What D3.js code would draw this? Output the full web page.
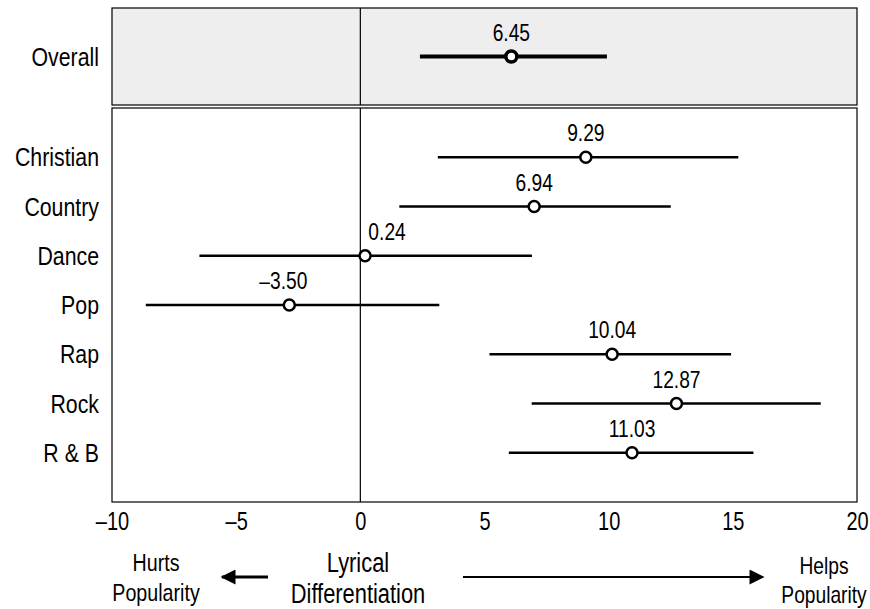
<!DOCTYPE html>
<html>
<head>
<meta charset="utf-8">
<script src="https://cdn.jsdelivr.net/npm/d3@7"></script>
<style>
  body { margin: 0; background: #fff; }
  svg text { font-family: "Liberation Sans", Arial, sans-serif; fill: #000; }
</style>
</head>
<body>
<svg id="chart" width="870" height="609"></svg>
<script>
// ---- data ----
const overallLabel = "Overall";
const overallEstimate = 6.08;
const overallLow = 2.40;
const overallHigh = 9.93;
const overallText = "6.45";

const categories = ["Christian", "Country", "Dance", "Pop", "Rap", "Rock", "R & B"];
const estimates = [9.08, 7.00, 0.19, -2.86, 10.14, 12.73, 10.94];
const lows      = [3.12, 1.57, -6.48, -8.64, 5.20, 6.90, 5.98];
const highs     = [15.22, 12.50, 6.91, 3.18, 14.93, 18.54, 15.83];
const valueTexts = ["9.29", "6.94", "0.24", "\u20133.50", "10.04", "12.87", "11.03"];

const xTicks = [-10, -5, 0, 5, 10, 15, 20];
const xTickLabels = ["\u201310", "\u20135", "0", "5", "10", "15", "20"];

// ---- layout ----
const svg = d3.select("#chart");
const L = 112, R = 857, T = 8;
const topBottom = 105, botTop = 108, B = 502;
const K = 0.8; // horizontal condensing of the sans font

const x = d3.scaleLinear().domain([-10, 20]).range([L, R]);
const y = d3.scalePoint().domain(categories).range([botTop, B]).padding(1);
const yTop = d3.scalePoint().domain([overallLabel]).range([T, topBottom]).padding(0.5);

const place = (px, py, k = K) => `translate(${px},${py}) scale(${k},1)`;

// panels
svg.append("rect").attr("x", L).attr("y", T).attr("width", R - L).attr("height", topBottom - T)
  .attr("fill", "#eeeeee").attr("stroke", "#000").attr("stroke-width", 1.2);
svg.append("rect").attr("x", L).attr("y", botTop).attr("width", R - L).attr("height", B - botTop)
  .attr("fill", "none").attr("stroke", "#000").attr("stroke-width", 1.2);

// zero lines
[[T, topBottom], [botTop, B]].forEach(([a, b]) => {
  svg.append("line").attr("x1", x(0)).attr("x2", x(0)).attr("y1", a).attr("y2", b)
    .attr("stroke", "#000").attr("stroke-width", 1.2);
});

// overall
const oy = yTop(overallLabel);
svg.append("line").attr("x1", x(overallLow)).attr("x2", x(overallHigh)).attr("y1", oy).attr("y2", oy)
  .attr("stroke", "#000").attr("stroke-width", 4);
svg.append("circle").attr("cx", x(overallEstimate)).attr("cy", oy).attr("r", 5.5)
  .attr("fill", "#fff").attr("stroke", "#000").attr("stroke-width", 3.5);
svg.append("text").attr("transform", place(x(overallEstimate), oy - 16)).attr("text-anchor", "middle")
  .attr("font-size", 24).text(overallText);
svg.append("text").attr("transform", place(99, oy, 0.82)).attr("dy", "0.35em").attr("text-anchor", "end")
  .attr("font-size", 26).text(overallLabel);

// categories
const g = svg.append("g");
g.selectAll("line.ci").data(categories).join("line").attr("class", "ci")
  .attr("x1", (d, i) => x(lows[i])).attr("x2", (d, i) => x(highs[i]))
  .attr("y1", d => y(d)).attr("y2", d => y(d))
  .attr("stroke", "#000").attr("stroke-width", 2.5);
g.selectAll("circle").data(categories).join("circle")
  .attr("cx", (d, i) => x(estimates[i])).attr("cy", d => y(d)).attr("r", 5.5)
  .attr("fill", "#fff").attr("stroke", "#000").attr("stroke-width", 2.5);
const labelShift = { "Dance": 22, "Pop": -6 };
g.selectAll("text.val").data(categories).join("text").attr("class", "val")
  .attr("transform", (d, i) => place(x(estimates[i]) + (labelShift[d] || 0), y(d) - 16))
  .attr("text-anchor", "middle").attr("font-size", 24).text((d, i) => valueTexts[i]);
g.selectAll("text.cat").data(categories).join("text").attr("class", "cat")
  .attr("transform", d => place(99, y(d), 0.82)).attr("dy", "0.35em").attr("text-anchor", "end")
  .attr("font-size", 26).text(d => d);

// x axis (no tick marks)
const axis = d3.axisBottom(x).tickValues(xTicks).tickSize(0).tickPadding(10)
  .tickFormat((d, i) => xTickLabels[i]);
const ax = svg.append("g").attr("transform", `translate(0,${B})`).call(axis);
ax.select(".domain").remove();
ax.selectAll("text").attr("font-size", 25).attr("font-family", "'Liberation Sans', Arial, sans-serif")
  .attr("fill", "#000").attr("transform", `scale(${K},1)`);

// annotations
const defs = svg.append("defs");
defs.append("marker").attr("id", "ah").attr("viewBox", "0 0 10 10").attr("refX", 9).attr("refY", 5)
  .attr("markerUnits", "userSpaceOnUse")
  .attr("markerWidth", 18).attr("markerHeight", 15).attr("orient", "auto")
  .append("path").attr("d", "M0,0 L10,5 L0,10 Z").attr("fill", "#000");

function twoLine(cx, y0, gap, lines, size, k) {
  const t = svg.append("text").attr("transform", place(cx, y0, k)).attr("text-anchor", "middle").attr("font-size", size);
  lines.forEach((s, i) => t.append("tspan").attr("x", 0).attr("dy", i === 0 ? 0 : gap).text(s));
  return t;
}
twoLine(156, 571, 30, ["Hurts", "Popularity"], 24, 0.82);
twoLine(358, 572, 31, ["Lyrical", "Differentiation"], 27, 0.81);
twoLine(824, 574, 29, ["Helps", "Popularity"], 24, 0.8);

svg.append("line").attr("x1", 268).attr("x2", 222).attr("y1", 577).attr("y2", 577)
  .attr("stroke", "#000").attr("stroke-width", 3).attr("marker-end", "url(#ah)");
svg.append("line").attr("x1", 463).attr("x2", 763).attr("y1", 577).attr("y2", 577)
  .attr("stroke", "#000").attr("stroke-width", 2).attr("marker-end", "url(#ah)");
</script>
</body>
</html>
